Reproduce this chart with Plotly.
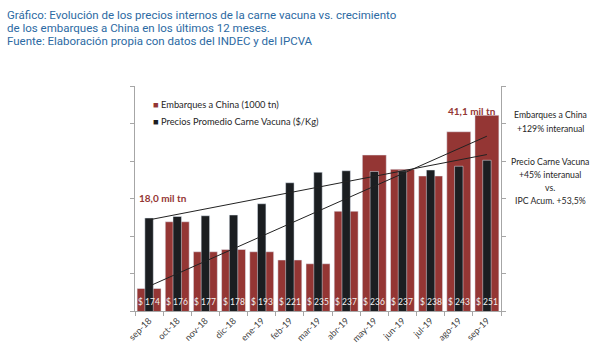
import numpy as np
import plotly.graph_objects as go

categories = ["sep-18", "oct-18", "nov-18", "dic-18", "ene-19", "feb-19", "mar-19",
              "abr-19", "may-19", "jun-19", "jul-19", "ago-19", "sep-19"]
embarques = [18.0, 26.9, 22.9, 23.2, 22.9, 21.8, 21.3, 28.3, 35.8, 33.9, 33.0, 38.9, 41.1]
precios = [174, 176, 177, 178, 193, 221, 235, 237, 236, 237, 238, 243, 251]
price_labels = ["$ %d" % p for p in precios]

RED = "#943634"
BLACK = "#1b1e21"
TITLE_BLUE = "#2c6aa3"
FONT = "Lato"

idx = np.arange(len(categories))
trend_emb = np.polyval(np.polyfit(idx, embarques, 1), idx)
trend_pre = np.polyval(np.polyfit(idx, precios, 1), idx)

fig = go.Figure()
fig.add_trace(go.Bar(x=categories, y=embarques, width=0.85, marker_color=RED,
                     name="Embarques a China (1000 tn)", yaxis="y", showlegend=False))
fig.add_trace(go.Bar(x=categories, y=precios, width=0.3, marker_color=BLACK,
                     name="Precios Promedio Carne Vacuna ($/Kg)", yaxis="y2", showlegend=False))
fig.add_trace(go.Scatter(x=categories, y=trend_pre, mode="lines", yaxis="y2",
                         line=dict(color="#222222", width=1), showlegend=False))
fig.add_trace(go.Scatter(x=categories, y=trend_emb, mode="lines", yaxis="y3",
                         line=dict(color="#222222", width=1), showlegend=False))

annotations = []
for i, lab in enumerate(price_labels):
    annotations.append(dict(x=i, y=0.04, xref="x", yref="paper", text=lab, showarrow=False,
                            font=dict(family=FONT, size=8.5, color="#f2f2f2"),
                            xanchor="center", yanchor="middle"))

# value call-outs
annotations.append(dict(x=0.5, y=0.502, xref="x", yref="paper", text="<b>18,0 mil tn</b>",
                        showarrow=False, font=dict(family=FONT, size=10, color=RED)))
annotations.append(dict(x=11.47, y=0.924, xref="x", yref="paper", text="<b>41,1 mil tn</b>",
                        showarrow=False, font=dict(family=FONT, size=10, color=RED)))

# legend
annotations.append(dict(x=0.044, y=(311 - 97) / 225, xref="paper", yref="paper",
                        text="<span style='color:%s'>■</span> Embarques a China (1000 tn)" % RED,
                        showarrow=False, xanchor="left", font=dict(family=FONT, size=9.3, color="#262626")))
annotations.append(dict(x=0.044, y=(311 - 114) / 225, xref="paper", yref="paper",
                        text="<span style='color:%s'>■</span> Precios Promedio Carne Vacuna ($/Kg)" % BLACK,
                        showarrow=False, xanchor="left", font=dict(family=FONT, size=9.3, color="#262626")))

# right-side notes
right_lines = [("Embarques a China", 107), ("+129% interanual", 121),
               ("Precio Carne Vacuna", 161), ("+45% interanual", 174),
               ("vs.", 187), ("IPC Acum. +53,5%", 200)]
for txt, py in right_lines:
    annotations.append(dict(x=(550 - 135) / 366, y=(311 - py) / 225, xref="paper", yref="paper",
                            text=txt, showarrow=False, xanchor="center",
                            font=dict(family=FONT, size=8.7, color="#262626")))

# title lines
title_lines = ["Gráfico: Evolución de los precios internos de la carne vacuna vs. crecimiento",
               "de los embarques a China en los últimos 12 meses.",
               "Fuente: Elaboración propia con datos del INDEC y del IPCVA"]
for k, txt in enumerate(title_lines):
    py = 15 + 13 * k
    annotations.append(dict(x=(5 - 135) / 366, y=(311 - py) / 225, xref="paper", yref="paper",
                            text=txt, showarrow=False, xanchor="left", yanchor="middle",
                            font=dict(family="Roboto", size=11.5, color=TITLE_BLUE)))

axis_common = dict(showgrid=False, zeroline=False, showline=True, linecolor="#a6a6a6",
                   linewidth=1, ticks="outside", tickcolor="#a6a6a6", ticklen=4)

fig.update_layout(
    width=601, height=359,
    margin=dict(l=135, r=100, t=86, b=48),
    paper_bgcolor="white", plot_bgcolor="white",
    barmode="overlay",
    showlegend=False,
    xaxis=dict(type="category", categoryorder="array", categoryarray=categories,
               range=[-0.5, 12.5], tickson="boundaries", tickangle=-45,
               tickfont=dict(family=FONT, size=9, color="#404040"), **axis_common),
    yaxis=dict(range=[15, 45], dtick=5, showticklabels=False, **axis_common),
    yaxis2=dict(range=[50, 350], dtick=50, overlaying="y", side="right",
                showticklabels=False, **axis_common),
    yaxis3=dict(range=[15, 45], overlaying="y", visible=False),
    annotations=annotations,
)

fig.write_html("out.html", config={"displayModeBar": False},
               post_script="document.body.style.margin='0';document.body.style.overflow='hidden';")
